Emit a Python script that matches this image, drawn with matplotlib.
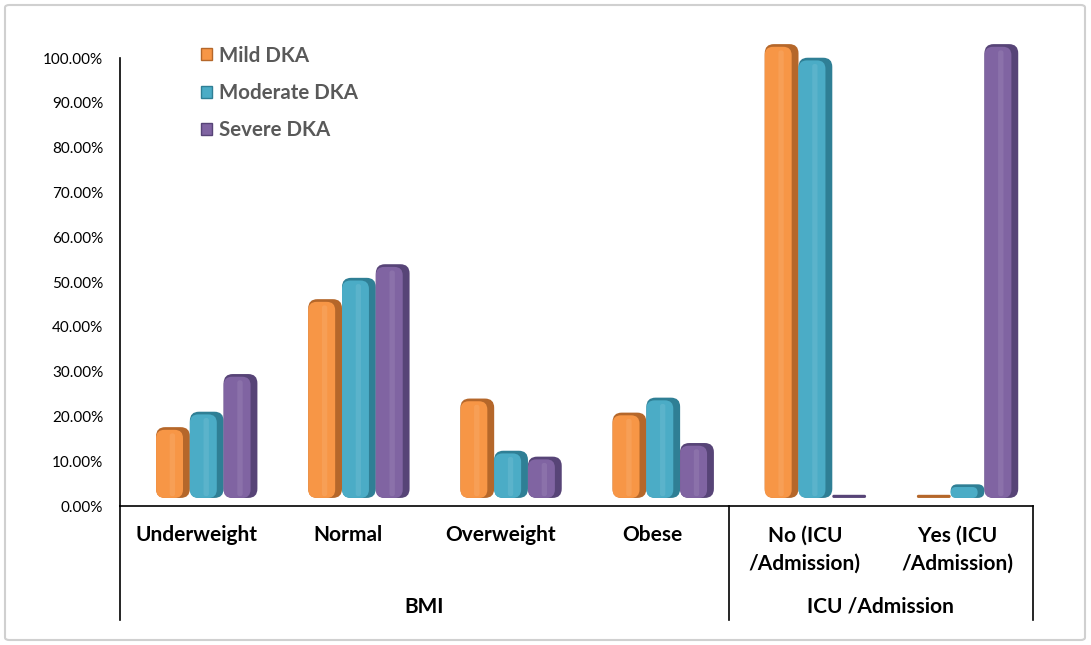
import matplotlib
matplotlib.use("Agg")
import matplotlib.pyplot as plt
from matplotlib.patches import FancyBboxPatch, Patch
import numpy as np

categories = ["Underweight", "Normal", "Overweight", "Obese",
              "No (ICU\n/Admission)", "Yes (ICU\n/Admission)"]
groups = ["BMI", "ICU /Admission"]
group_sizes = [4, 2]
series = ["Mild DKA", "Moderate DKA", "Severe DKA"]
mild = [0.156, 0.438, 0.219, 0.188, 1.000, 0.000]
moderate = [0.190, 0.485, 0.104, 0.221, 0.970, 0.030]
severe = [0.273, 0.515, 0.091, 0.121, 0.000, 1.000]
yticks = [i / 10 for i in range(11)]

face_colors = ["#F79646", "#4BACC6", "#8064A2"]
side_colors = ["#B5672A", "#2F7F95", "#574477"]

# pseudo-3D projection constants (front row of a 3D chart)
floor_lift = 0.018
height_scale = 1.013

plt.rcParams['font.family'] = ['Lato', 'DejaVu Sans']

fig = plt.figure(figsize=(10.91, 6.45), dpi=100)
ax = fig.add_axes([120/1091, (645-506)/645, 913/1091, 448/645])

x = np.arange(len(categories))
bw = 0.222
offsets = [-bw + 0.07, 0.07, bw + 0.07]
px_x = 913 / 6  # pixels per x unit
px_y = 448      # pixels per y unit
aspect = px_x / px_y
for k, vals in enumerate([mild, moderate, severe]):
    bars = ax.bar(x + offsets[k], np.array(vals) * height_scale, width=bw,
                  bottom=floor_lift, color=face_colors[k], label=series[k])
    for b in bars:
        b.set_visible(False)
        bx, by = b.get_x(), b.get_y()
        w, h = b.get_width(), max(b.get_height(), 0.007)
        r = min(0.06, h / aspect * 0.48)
        side = FancyBboxPatch((bx, by), w, h,
                              boxstyle=f"round,pad=0,rounding_size={r}",
                              mutation_aspect=aspect,
                              facecolor=side_colors[k], edgecolor="none",
                              zorder=2, clip_on=False)
        ax.add_patch(side)
        fh = h - 0.006
        if fh > 0.004:
            rf = min(0.055, fh / aspect * 0.48)
            face = FancyBboxPatch((bx, by), w - 0.045, fh,
                                  boxstyle=f"round,pad=0,rounding_size={rf}",
                                  mutation_aspect=aspect,
                                  facecolor=face_colors[k], edgecolor="none",
                                  zorder=3, clip_on=False)
            ax.add_patch(face)
            if fh > 0.04:
                ax.add_patch(FancyBboxPatch((bx + 0.09, by + 0.004), 0.035,
                                            fh - 0.012,
                                            boxstyle="round,pad=0,rounding_size=0.015",
                                            mutation_aspect=aspect,
                                            facecolor="white", alpha=0.09,
                                            edgecolor="none", zorder=4,
                                            clip_on=False))

ax.set_xlim(-0.5, len(categories) - 0.5)
ax.set_ylim(0, 1)
ax.set_yticks(yticks)
ax.set_yticklabels([f"{v*100:.2f}%" for v in yticks], fontsize=11)
ax.tick_params(axis='y', length=0, pad=12)
ax.set_xticks([])
for s in ["top", "right"]:
    ax.spines[s].set_visible(False)
ax.spines["left"].set_linewidth(1.2)
ax.spines["bottom"].set_linewidth(1.2)

# category labels
for i, c in enumerate(categories):
    ax.text(i, -0.043, c, ha="center", va="top", fontsize=15,
            fontweight="bold", linespacing=1.5,
            transform=ax.get_xaxis_transform())

# group separators and labels
bounds = np.concatenate([[0], np.cumsum(group_sizes)])
for bnd in bounds:
    xx = bnd - 0.5
    ax.plot([xx, xx], [0, -0.254], color="black", lw=1.2,
            transform=ax.get_xaxis_transform(), clip_on=False)
for g, a, b in zip(groups, bounds[:-1], bounds[1:]):
    ax.text((a + b - 1) / 2, -0.225, g, ha="center", va="center",
            fontsize=15, fontweight="bold",
            transform=ax.get_xaxis_transform())

handles = [Patch(facecolor=face_colors[k], edgecolor=side_colors[k],
                 label=series[k]) for k in range(3)]
leg = fig.legend(handles=handles, loc="upper left",
                 bbox_to_anchor=(182/1091, (645-27)/645),
                 frameon=False, labelspacing=0.85,
                 handlelength=0.55, handleheight=0.55, handletextpad=0.35,
                 prop={'weight': 'bold', 'size': 14.8})
for t in leg.get_texts():
    t.set_color("#595959")

fig.patches.append(FancyBboxPatch((5/1091, 5/645), 1080/1091, 635/645,
                                  boxstyle="round,pad=0,rounding_size=0.004",
                                  transform=fig.transFigure,
                                  facecolor="none", edgecolor="#D0D0D0",
                                  lw=1.5))

fig.savefig("out.png", dpi=100)
